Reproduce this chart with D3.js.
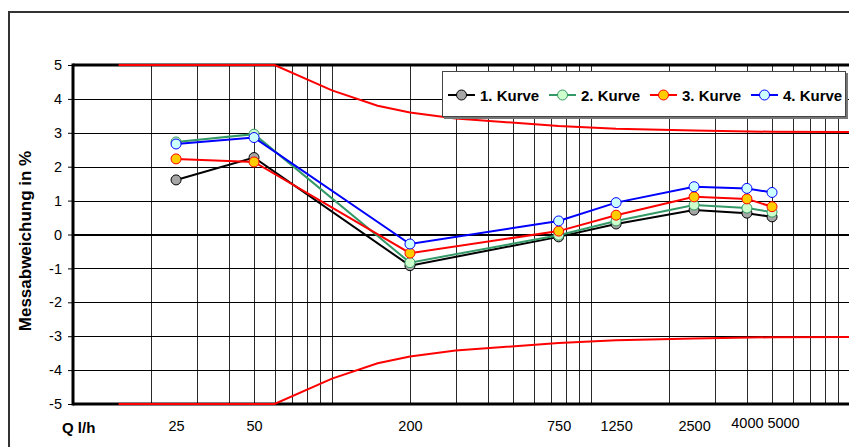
<!DOCTYPE html>
<html>
<head>
<meta charset="utf-8">
<script src="https://cdn.jsdelivr.net/npm/d3@7"></script>
<style>
  body { margin: 0; background: #fff; }
  svg { display: block; font-family: "Liberation Sans", Arial, sans-serif; }
</style>
</head>
<body>
<svg class="chart" width="849" height="447"></svg>
<script>
// flow rates (l/h) where the curves were measured
const flows = [25, 50, 200, 750, 1250, 2500, 4000, 5000]

// measured deviation in % per curve
const kurve1 = [1.61, 2.27, -0.92, -0.07, 0.31, 0.72, 0.63, 0.52]
const kurve2 = [2.73, 2.96, -0.83, -0.02, 0.40, 0.87, 0.78, 0.66]
const kurve3 = [2.23, 2.14, -0.55, 0.10, 0.57, 1.11, 1.05, 0.82]
const kurve4 = [2.67, 2.86, -0.28, 0.40, 0.94, 1.41, 1.36, 1.24]

const seriesNames = ["1. Kurve", "2. Kurve", "3. Kurve", "4. Kurve"]
const lineColors = ["#000000", "#339966", "#ff0000", "#0000ff"]
const markerFills = ["#a6a6a6", "#ccffcc", "#ffcc00", "#ccffff"]

// error limit curve (upper, lower is mirrored)
const limitFlows = [15, 60, 100, 150, 200, 300, 750, 1250, 2500, 5000, 10000]
const limitValues = [5, 5, 4.25, 3.8, 3.6, 3.42, 3.2, 3.12, 3.07, 3.03, 3.02]

const yTicks = [-5, -4, -3, -2, -1, 0, 1, 2, 3, 4, 5]
const xLabels = [25, 50, 200, 750, 1250, 2500, 4000, 5000]

const svg = d3.select("svg.chart")

// outer chart frame (cut off at right / bottom)
svg.append("rect")
    .attr("x", 9).attr("y", 12)
    .attr("width", 900).attr("height", 500)
    .attr("fill", "none")
    .attr("stroke", "#333")
    .attr("stroke-width", 2)

const scaleX = d3.scaleLog().domain([10, 10000]).range([73, 850])
const scaleY = d3.scaleLinear().domain([-5, 5]).range([404, 65])

// vertical grid lines, every 1..9 per decade
const grid = svg.append("g").attr("shape-rendering", "crispEdges")
grid.selectAll("line.v")
    .data(scaleX.ticks().filter(d => d > 10))
    .enter().append("line")
    .attr("class", "v")
    .attr("x1", d => Math.round(scaleX(d)) + 0.5)
    .attr("x2", d => Math.round(scaleX(d)) + 0.5)
    .attr("y1", scaleY(5))
    .attr("y2", scaleY(-5))
    .attr("stroke", "#2a2a2a")
    .attr("stroke-width", 1)

// y axis with short outside ticks, doubles as horizontal grid
const axisY = d3.axisLeft(scaleY)
    .tickValues(yTicks)
    .tickSize(5)
    .tickPadding(6)
    .tickFormat(d => String(d))
const axisYGroup = svg.append("g")
    .attr("transform", "translate(73, 0)")
    .call(axisY)
axisYGroup.select(".domain").remove()
axisYGroup.selectAll(".tick line")
    .attr("x2", -5)
    .attr("stroke", "#000")
axisYGroup.selectAll(".tick").append("line")
    .attr("x1", 0).attr("x2", 800)
    .attr("stroke", "#000")
    .attr("stroke-width", d => d === 0 ? 2 : 1)
    .attr("shape-rendering", "crispEdges")
axisYGroup.selectAll(".tick text")
    .style("font-size", "14.5px")
    .attr("fill", "#000")

// thick frame: left axis, top and bottom
svg.append("line")
    .attr("x1", 73).attr("x2", 850)
    .attr("y1", scaleY(5)).attr("y2", scaleY(5))
    .attr("stroke", "#000").attr("stroke-width", 3)
svg.append("line")
    .attr("x1", 73).attr("x2", 850)
    .attr("y1", scaleY(-5)).attr("y2", scaleY(-5))
    .attr("stroke", "#000").attr("stroke-width", 3)
svg.append("line")
    .attr("x1", 73).attr("x2", 73)
    .attr("y1", scaleY(5) - 1.5).attr("y2", scaleY(-5) + 1.5)
    .attr("stroke", "#000").attr("stroke-width", 3)

// x axis labels only
const axisX = d3.axisBottom(scaleX)
    .tickValues(xLabels)
    .tickSize(0)
    .tickPadding(17)
    .tickFormat(d => d)
const axisXGroup = svg.append("g")
    .attr("transform", "translate(0, 404)")
    .call(axisX)
axisXGroup.select(".domain").remove()
axisXGroup.selectAll(".tick text")
    .style("font-size", "14.5px")
    .attr("fill", "#000")
// 4000 and 5000 sit close together, Excel nudged them
axisXGroup.selectAll(".tick text")
    .filter(d => d === 5000)
    .attr("dx", 11)
    .attr("y", 14)
axisXGroup.selectAll(".tick text")
    .filter(d => d === 4000)
    .attr("y", 14)

svg.append("text")
    .attr("x", 62).attr("y", 433)
    .attr("font-size", "15px")
    .attr("font-weight", "bold")
    .text("Q l/h")

svg.append("text")
    .attr("transform", "translate(31, 241) rotate(-90)")
    .attr("text-anchor", "middle")
    .attr("font-size", "17px")
    .attr("font-weight", "bold")
    .text("Messabweichung in %")

// limit curves
const limitLine = d3.line()
    .x(d => scaleX(d[0]))
    .y(d => scaleY(d[1]))
const upper = limitFlows.map((q, i) => [q, limitValues[i]])
const lower = limitFlows.map((q, i) => [q, -limitValues[i]])
;[upper, lower].forEach(pts => {
    svg.append("path")
        .datum(pts)
        .attr("d", limitLine)
        .attr("fill", "none")
        .attr("stroke", "#ff0000")
        .attr("stroke-width", 2)
})

// measured curves
const allSeries = [kurve1, kurve2, kurve3, kurve4]
const valueLine = d3.line()
    .x(d => scaleX(d[0]))
    .y(d => scaleY(d[1]))

allSeries.forEach((values, s) => {
    const pts = flows.map((q, i) => [q, values[i]])
    const g = svg.append("g").attr("class", "series")
    g.append("path")
        .datum(pts)
        .attr("d", valueLine)
        .attr("fill", "none")
        .attr("stroke", lineColors[s])
        .attr("stroke-width", 2)
    g.selectAll("circle")
        .data(pts)
        .enter().append("circle")
        .attr("cx", d => scaleX(d[0]))
        .attr("cy", d => scaleY(d[1]))
        .attr("r", 5)
        .attr("fill", markerFills[s])
        .attr("stroke", lineColors[s])
        .attr("stroke-width", 1)
})

// legend
const legend = svg.append("g").attr("transform", "translate(442, 71)")
legend.append("rect")
    .attr("x", 2).attr("y", 2)
    .attr("width", 404).attr("height", 46)
    .attr("fill", "#777")
legend.append("rect")
    .attr("x", 0.5).attr("y", 0.5)
    .attr("width", 403).attr("height", 45)
    .attr("fill", "#fff")
    .attr("stroke", "#444")
    .attr("stroke-width", 1)

const entries = legend.selectAll("g.entry")
    .data(seriesNames)
    .enter().append("g")
    .attr("class", "entry")
    .attr("transform", (d, i) => `translate(${6 + i * 101}, 24)`)
entries.append("line")
    .attr("x1", 0).attr("x2", 27)
    .attr("stroke", (d, i) => lineColors[i])
    .attr("stroke-width", 2)
entries.append("circle")
    .attr("cx", 13.5).attr("cy", 0)
    .attr("r", 5)
    .attr("fill", (d, i) => markerFills[i])
    .attr("stroke", (d, i) => lineColors[i])
entries.append("text")
    .attr("x", 32).attr("y", 5.5)
    .attr("font-size", "15px")
    .attr("font-weight", "bold")
    .text(d => d)
</script>
</body>
</html>
